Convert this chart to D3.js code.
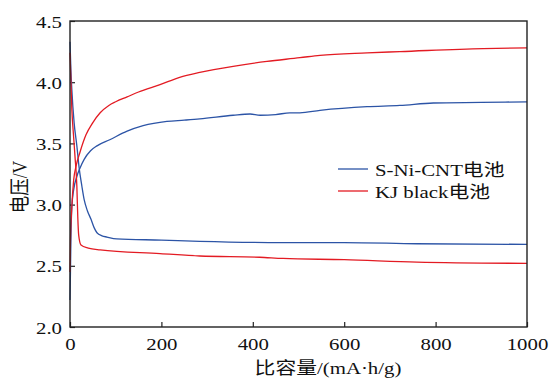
<!DOCTYPE html>
<html>
  <head>
    <meta charset="utf-8">
    <style type="text/css">
      body { margin: 0; background: #fff; overflow: hidden; }
    </style>
    <script src="https://d3js.org/d3.v7.min.js"></script>
  </head>
  <body>
    <svg width="555" height="379"></svg>
    <script>
      // [capacity mAh/g, voltage V]
      const cntCharge = [[0,2.22],[1,2.45],[2,2.71],[4,2.98],[8,3.12],[15,3.23],[22,3.30],[31,3.37],[45,3.44],[59,3.48],
        [87,3.53],[125,3.60],[160,3.645],[212,3.68],[250,3.69],[284,3.70],[357,3.73],[394,3.74],[416,3.73],[450,3.735],
        [481,3.75],[503,3.75],[547,3.77],[650,3.80],[722,3.81],[795,3.83],[900,3.835],[1000,3.84]];
      const cntDischarge = [[0,4.33],[2,4.10],[4,3.94],[9,3.67],[15,3.48],[20,3.30],[26,3.15],[31,3.04],[38,2.95],[46,2.88],
        [53,2.81],[59,2.77],[70,2.745],[81,2.735],[102,2.72],[200,2.71],[284,2.70],[466,2.69],[600,2.69],[759,2.68],[1000,2.675]];
      const kjCharge = [[0,2.45],[1,2.70],[4,2.98],[8,3.20],[13,3.31],[22,3.43],[35,3.57],[50,3.67],[66,3.75],[85,3.81],
        [100,3.84],[125,3.88],[150,3.92],[197,3.98],[240,4.04],[284,4.08],[357,4.13],[431,4.17],[503,4.20],[547,4.22],
        [650,4.24],[722,4.25],[904,4.275],[1000,4.28]];
      const kjDischarge = [[0,4.24],[4,3.78],[8,3.55],[11,3.39],[15,3.15],[17,2.9],[19,2.75],[24,2.67],[40,2.645],[66,2.63],
        [197,2.60],[284,2.58],[415,2.57],[466,2.56],[600,2.55],[759,2.53],[1000,2.52]];

      const seriesNames = ['S-Ni-CNT电池', 'KJ black电池'];
      const colors = ['#2c54a6', '#e31b23'];
      const xTicks = [0, 200, 400, 600, 800, 1000];
      const yTicks = [2.0, 2.5, 3.0, 3.5, 4.0, 4.5];
      const xTitle = '比容量/(mA·h/g)';
      const yTitle = '电压/V';

      const font = '"Liberation Serif", "DejaVu Serif", "Noto Sans CJK SC", serif';
      const svg = d3.select('svg');
      const margin = { left: 70, right: 28, top: 21, bottom: 52 };
      const W = 555, H = 379;
      const innerW = W - margin.left - margin.right;
      const innerH = H - margin.top - margin.bottom;
      const sx = 1.19; // text in the source is stretched horizontally

      const x = d3.scaleLinear().domain([0, 1000]).range([0, innerW]);
      const y = d3.scaleLinear().domain([2.0, 4.5]).range([innerH, 0]);

      const g = svg.append('g').attr('transform', `translate(${margin.left},${margin.top})`);

      function label(sel, tf, txt, anchor) {
        return sel.append('text')
          .attr('transform', tf)
          .attr('text-anchor', anchor || 'start')
          .attr('font-family', font)
          .style('font-family', font)
          .style('font-size', '17.5px')
          .style('fill', '#111')
          .text(txt);
      }

      const xAxis = g.append('g')
        .attr('transform', `translate(0,${innerH})`)
        .call(d3.axisBottom(x).tickValues(xTicks).tickSizeInner(-5).tickSizeOuter(0));
      xAxis.attr('font-family', null);
      xAxis.selectAll('text').remove();
      xAxis.selectAll('.tick').each(function(d) {
        label(d3.select(this), `translate(0,23) scale(${sx},1)`, d, 'middle');
      });

      const yAxis = g.append('g')
        .call(d3.axisLeft(y).tickValues(yTicks).tickSizeInner(-5).tickSizeOuter(0));
      yAxis.attr('font-family', null);
      yAxis.selectAll('text').remove();
      yAxis.selectAll('.tick').each(function(d) {
        label(d3.select(this), `translate(-8,6) scale(${sx},1)`, d3.format('.1f')(d), 'end');
      });
      g.selectAll('.domain').remove();
      g.selectAll('.tick line').attr('stroke', '#222').attr('stroke-width', 1.2);

      const line = d3.line().curve(d3.curveMonotoneX).x(d => x(d[0])).y(d => y(d[1]));
      [[cntCharge, 0], [cntDischarge, 0], [kjCharge, 1], [kjDischarge, 1]].forEach(([data, i]) => {
        g.append('path')
          .datum(data)
          .attr('fill', 'none')
          .attr('stroke', colors[i])
          .attr('stroke-width', 1.3)
          .attr('d', line);
      });

      g.append('rect')
        .attr('width', innerW).attr('height', innerH)
        .attr('fill', 'none').attr('stroke', '#222').attr('stroke-width', 1.4);

      // legend
      const leg = g.append('g').attr('transform', `translate(${338 - margin.left},${169 - margin.top})`);
      seriesNames.forEach((name, i) => {
        leg.append('line')
          .attr('x1', 0).attr('x2', 30).attr('y1', i * 22).attr('y2', i * 22)
          .attr('stroke', colors[i]).attr('stroke-width', 1.3);
        label(leg, `translate(37,${i * 22 + 7}) scale(${sx},1)`, name);
      });

      label(svg, `translate(328,374) scale(${sx},1)`, xTitle, 'middle');
      label(svg, `translate(27,187) rotate(-90) scale(1,${sx})`, yTitle, 'middle');
    </script>
  </body>
</html>
